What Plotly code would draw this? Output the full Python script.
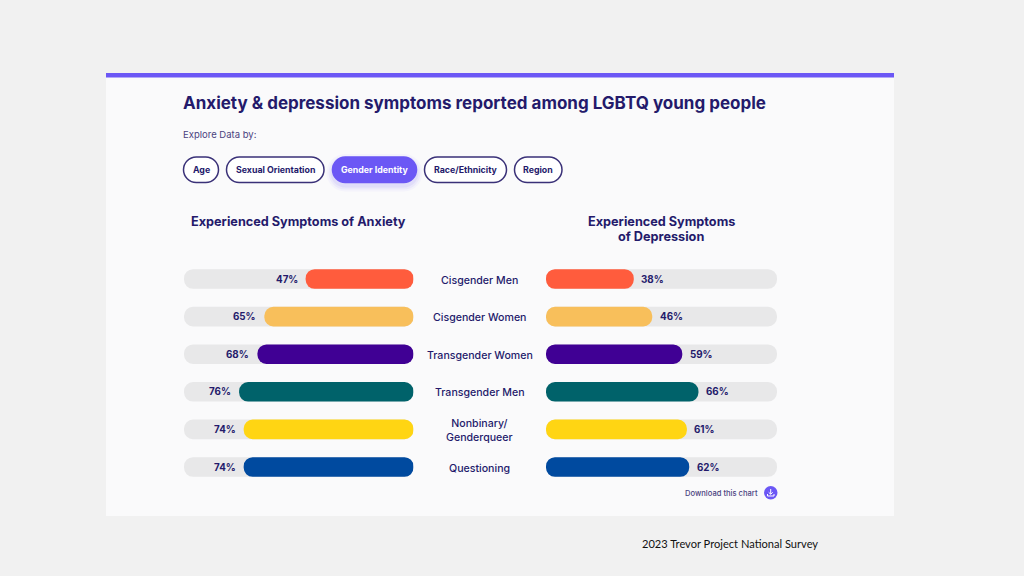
import plotly.graph_objects as go

W, H = 1024, 576
categories = ["Cisgender Men", "Cisgender Women", "Transgender Women", "Transgender Men", "Nonbinary/<br>Genderqueer", "Questioning"]
anxiety = [47, 65, 68, 76, 74, 74]
depression = [38, 46, 59, 66, 61, 62]
colors = ["#FF5C3D", "#F8BF5B", "#400094", "#00626A", "#FFD513", "#004A9F"]
track = [100, 100, 100, 100, 100, 100]
filters = ["Age", "Sexual Orientation", "Gender Identity", "Race/Ethnicity", "Region"]

INK = "#241A6B"
FONT = "Inter"
PURPLE = "#6B57F5"

def px(x): return x / W
def py(y): return 1 - y / H

fig = go.Figure()

def capsule(vals, color, xa, ya):
    # Giving the bar an explicit base makes plotly round both of its ends.
    fig.add_bar(x=vals, y=categories, base=[0] * len(vals), orientation="h",
                marker=dict(color=color, cornerradius=10, line_width=0),
                xaxis=xa, yaxis=ya, showlegend=False, hoverinfo="skip")

for xa, ya, vals in (("x", "y", anxiety), ("x2", "y2", depression)):
    capsule(track, "#E8E8E9", xa, ya)
    capsule(vals, colors, xa, ya)

shapes, ann = [], []

def rect(x0, y0, x1, y1, fill):
    shapes.append(dict(type="rect", xref="paper", yref="paper", x0=px(x0), x1=px(x1), y0=py(y0), y1=py(y1),
                       fillcolor=fill, line_width=0, layer="below"))

def pill(x0, y0, x1, y1, fill, line, lw=1.5, layer="below"):
    r = (y1 - y0) / 2
    k = r * 0.5523
    def P(x, y): return f"{px(x):.5f},{py(y):.5f}"
    path = (f"M {P(x0+r,y0)} L {P(x1-r,y0)} C {P(x1-r+k,y0)} {P(x1,y0+r-k)} {P(x1,y0+r)} "
            f"C {P(x1,y0+r+k)} {P(x1-r+k,y1)} {P(x1-r,y1)} L {P(x0+r,y1)} "
            f"C {P(x0+r-k,y1)} {P(x0,y0+r+k)} {P(x0,y0+r)} C {P(x0,y0+r-k)} {P(x0+r-k,y0)} {P(x0+r,y0)} Z")
    shapes.append(dict(type="path", xref="paper", yref="paper", path=path, fillcolor=fill,
                       line=dict(color=line, width=lw), layer=layer))

def text(x, y, s, size, color=INK, weight=700, anchor="left", family=FONT):
    ann.append(dict(xref="paper", yref="paper", x=px(x), y=py(y), text=s, showarrow=False,
                    xanchor=anchor, yanchor="middle", align="center", borderpad=0, borderwidth=0,
                    font=dict(family=family, size=size, color=color, weight=weight)))

rect(106, 73, 894, 516, "#FAFAFB")
rect(106, 73, 894, 77.5, PURPLE)

text(183, 103, "Anxiety &amp; depression symptoms reported among LGBTQ young people", 17, weight=700)
text(183, 134.5, "Explore Data by:", 9.5, color="#4A4280", weight=400)

pill_x = [(183.5, 218.5), (226.5, 324), (332.5, 416.5), (424.5, 506.5), (514.5, 562)]
for name, (a, b) in zip(filters, pill_x):
    active = name == "Gender Identity"
    if active:
        for grow, alpha in ((6, .04), (4, .06), (2, .08)):
            pill(a - grow, 157 - grow + 3, b + grow, 182.5 + grow + 3, f"rgba(107,87,245,{alpha})", "rgba(0,0,0,0)", 0)
    pill(a, 157, b, 182.5, PURPLE if active else "#FFFFFF", PURPLE if active else "#3A3178")
    text((a + b) / 2, 170, name, 8.8, color="#FFFFFF" if active else INK, anchor="center")

text(298.5, 221.5, "Experienced Symptoms of Anxiety", 12.7, anchor="center")
text(661, 221.5, "Experienced Symptoms", 12.7, anchor="center")
text(661, 236.5, "of Depression", 12.7, anchor="center")

for c in categories:
    ann.append(dict(xref="paper", yref="y", x=px(479.5), y=c, text=c, showarrow=False, xanchor="center",
                    yanchor="middle", align="center", yshift=-1, borderpad=0,
                    font=dict(family=FONT, size=10.6, color=INK, weight=500)))
for c, a, d in zip(categories, anxiety, depression):
    ann.append(dict(xref="x", yref="y", x=a, y=c, text=f"{a}%", showarrow=False, xanchor="right", xshift=-7, borderpad=0,
                    font=dict(family=FONT, size=9.8, color=INK, weight=700)))
    ann.append(dict(xref="x2", yref="y2", x=d, y=c, text=f"{d}%", showarrow=False, xanchor="left", xshift=6.5, borderpad=0,
                    font=dict(family=FONT, size=9.8, color=INK, weight=700)))

text(758, 493, "Download this chart", 7.6, color="#4A4280", weight=500, anchor="right")
shapes.append(dict(type="circle", xref="paper", yref="paper", x0=px(764), x1=px(777.5), y0=py(499.5), y1=py(486),
                   fillcolor=PURPLE, line_width=0))
def seg(pts):
    d = "M " + " L ".join(f"{px(x):.5f},{py(y):.5f}" for x, y in pts)
    shapes.append(dict(type="path", xref="paper", yref="paper", path=d, line=dict(color="#FFFFFF", width=1)))
seg([(770.7, 489), (770.7, 494)])
seg([(768.7, 492.3), (770.7, 494.3), (772.7, 492.3)])
seg([(767.5, 494), (767.5, 496), (774, 496), (774, 494)])

text(730, 543.5, "2023 Trevor Project National Survey", 11.1, color="#111111", weight=400, anchor="center", family="Lato")

y_dom = [py(485.8), py(260.2)]
axis_off = dict(showgrid=False, zeroline=False, showticklabels=False, ticks="", showline=False, fixedrange=True)
fig.update_layout(
    width=W, height=H, autosize=False, margin=dict(l=0, r=0, t=0, b=0),
    paper_bgcolor="#F1F1F1", plot_bgcolor="rgba(0,0,0,0)",
    barmode="overlay", bargap=0.48, shapes=shapes, annotations=ann,
    xaxis=dict(domain=[px(184), px(413.5)], range=[100, 0], **axis_off),
    xaxis2=dict(domain=[px(546), px(777)], range=[0, 100], **axis_off),
    yaxis=dict(domain=y_dom, autorange="reversed", anchor="x", **axis_off),
    yaxis2=dict(domain=y_dom, autorange="reversed", anchor="x2", **axis_off),
)
fig.write_html("out.html", config=dict(displayModeBar=False),
               post_script="document.body.style.margin='0';document.body.style.background='#F1F1F1';document.body.style.overflow='hidden';")
